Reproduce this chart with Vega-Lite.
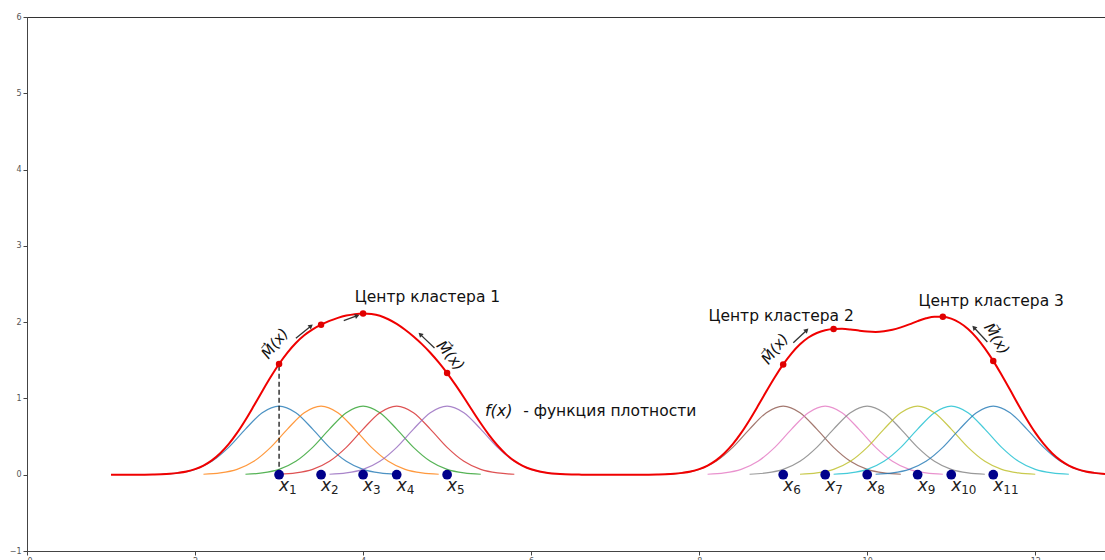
{
  "$schema": "https://vega.github.io/schema/vega-lite/v6.json",
  "width": 1078,
  "height": 534,
  "autosize": "none",
  "padding": {"left": 27, "top": 17, "right": 0, "bottom": 9},
  "background": "white",
  "config": {
    "font": "DejaVu Sans",
    "view": {"stroke": "#333", "strokeWidth": 1},
    "axis": {"grid": false, "title": null, "tickSize": 4, "labelFontSize": 8, "labelColor": "#555", "domainColor": "#444", "tickColor": "#444", "labelPadding": 2, "labelFont": "DejaVu Sans"}
  },
  "datasets": {
    "gauss": [
      {"g":"1","x":1.6,"y":0.006},{"g":"1","x":1.8,"y":0.023},{"g":"1","x":2.0,"y":0.07},{"g":"1","x":2.2,"y":0.176},{"g":"1","x":2.4,"y":0.359},{"g":"1","x":2.6,"y":0.598},{"g":"1","x":2.8,"y":0.813},{"g":"1","x":3.0,"y":0.9},{"g":"1","x":3.2,"y":0.813},{"g":"1","x":3.4,"y":0.598},{"g":"1","x":3.6,"y":0.359},{"g":"1","x":3.8,"y":0.176},{"g":"1","x":4.0,"y":0.07},{"g":"1","x":4.2,"y":0.023},{"g":"1","x":4.4,"y":0.006},
      {"g":"2","x":2.1,"y":0.006},{"g":"2","x":2.3,"y":0.023},{"g":"2","x":2.5,"y":0.07},{"g":"2","x":2.7,"y":0.176},{"g":"2","x":2.9,"y":0.359},{"g":"2","x":3.1,"y":0.598},{"g":"2","x":3.3,"y":0.813},{"g":"2","x":3.5,"y":0.9},{"g":"2","x":3.7,"y":0.813},{"g":"2","x":3.9,"y":0.598},{"g":"2","x":4.1,"y":0.359},{"g":"2","x":4.3,"y":0.176},{"g":"2","x":4.5,"y":0.07},{"g":"2","x":4.7,"y":0.023},{"g":"2","x":4.9,"y":0.006},
      {"g":"3","x":2.6,"y":0.006},{"g":"3","x":2.8,"y":0.023},{"g":"3","x":3.0,"y":0.07},{"g":"3","x":3.2,"y":0.176},{"g":"3","x":3.4,"y":0.359},{"g":"3","x":3.6,"y":0.598},{"g":"3","x":3.8,"y":0.813},{"g":"3","x":4.0,"y":0.9},{"g":"3","x":4.2,"y":0.813},{"g":"3","x":4.4,"y":0.598},{"g":"3","x":4.6,"y":0.359},{"g":"3","x":4.8,"y":0.176},{"g":"3","x":5.0,"y":0.07},{"g":"3","x":5.2,"y":0.023},{"g":"3","x":5.4,"y":0.006},
      {"g":"4","x":3.0,"y":0.006},{"g":"4","x":3.2,"y":0.023},{"g":"4","x":3.4,"y":0.07},{"g":"4","x":3.6,"y":0.176},{"g":"4","x":3.8,"y":0.359},{"g":"4","x":4.0,"y":0.598},{"g":"4","x":4.2,"y":0.813},{"g":"4","x":4.4,"y":0.9},{"g":"4","x":4.6,"y":0.813},{"g":"4","x":4.8,"y":0.598},{"g":"4","x":5.0,"y":0.359},{"g":"4","x":5.2,"y":0.176},{"g":"4","x":5.4,"y":0.07},{"g":"4","x":5.6,"y":0.023},{"g":"4","x":5.8,"y":0.006},
      {"g":"5","x":3.6,"y":0.006},{"g":"5","x":3.8,"y":0.023},{"g":"5","x":4.0,"y":0.07},{"g":"5","x":4.2,"y":0.176},{"g":"5","x":4.4,"y":0.359},{"g":"5","x":4.6,"y":0.598},{"g":"5","x":4.8,"y":0.813},{"g":"5","x":5.0,"y":0.9},{"g":"5","x":5.2,"y":0.813},{"g":"5","x":5.4,"y":0.598},{"g":"5","x":5.6,"y":0.359},{"g":"5","x":5.8,"y":0.176},{"g":"5","x":6.0,"y":0.07},{"g":"5","x":6.2,"y":0.023},{"g":"5","x":6.4,"y":0.006},
      {"g":"6","x":7.6,"y":0.006},{"g":"6","x":7.8,"y":0.023},{"g":"6","x":8.0,"y":0.07},{"g":"6","x":8.2,"y":0.176},{"g":"6","x":8.4,"y":0.359},{"g":"6","x":8.6,"y":0.598},{"g":"6","x":8.8,"y":0.813},{"g":"6","x":9.0,"y":0.9},{"g":"6","x":9.2,"y":0.813},{"g":"6","x":9.4,"y":0.598},{"g":"6","x":9.6,"y":0.359},{"g":"6","x":9.8,"y":0.176},{"g":"6","x":10.0,"y":0.07},{"g":"6","x":10.2,"y":0.023},{"g":"6","x":10.4,"y":0.006},
      {"g":"7","x":8.1,"y":0.006},{"g":"7","x":8.3,"y":0.023},{"g":"7","x":8.5,"y":0.07},{"g":"7","x":8.7,"y":0.176},{"g":"7","x":8.9,"y":0.359},{"g":"7","x":9.1,"y":0.598},{"g":"7","x":9.3,"y":0.813},{"g":"7","x":9.5,"y":0.9},{"g":"7","x":9.7,"y":0.813},{"g":"7","x":9.9,"y":0.598},{"g":"7","x":10.1,"y":0.359},{"g":"7","x":10.3,"y":0.176},{"g":"7","x":10.5,"y":0.07},{"g":"7","x":10.7,"y":0.023},{"g":"7","x":10.9,"y":0.006},
      {"g":"8","x":8.6,"y":0.006},{"g":"8","x":8.8,"y":0.023},{"g":"8","x":9.0,"y":0.07},{"g":"8","x":9.2,"y":0.176},{"g":"8","x":9.4,"y":0.359},{"g":"8","x":9.6,"y":0.598},{"g":"8","x":9.8,"y":0.813},{"g":"8","x":10.0,"y":0.9},{"g":"8","x":10.2,"y":0.813},{"g":"8","x":10.4,"y":0.598},{"g":"8","x":10.6,"y":0.359},{"g":"8","x":10.8,"y":0.176},{"g":"8","x":11.0,"y":0.07},{"g":"8","x":11.2,"y":0.023},{"g":"8","x":11.4,"y":0.006},
      {"g":"9","x":9.2,"y":0.006},{"g":"9","x":9.4,"y":0.023},{"g":"9","x":9.6,"y":0.07},{"g":"9","x":9.8,"y":0.176},{"g":"9","x":10.0,"y":0.359},{"g":"9","x":10.2,"y":0.598},{"g":"9","x":10.4,"y":0.813},{"g":"9","x":10.6,"y":0.9},{"g":"9","x":10.8,"y":0.813},{"g":"9","x":11.0,"y":0.598},{"g":"9","x":11.2,"y":0.359},{"g":"9","x":11.4,"y":0.176},{"g":"9","x":11.6,"y":0.07},{"g":"9","x":11.8,"y":0.023},{"g":"9","x":12.0,"y":0.006},
      {"g":"10","x":9.6,"y":0.006},{"g":"10","x":9.8,"y":0.023},{"g":"10","x":10.0,"y":0.07},{"g":"10","x":10.2,"y":0.176},{"g":"10","x":10.4,"y":0.359},{"g":"10","x":10.6,"y":0.598},{"g":"10","x":10.8,"y":0.813},{"g":"10","x":11.0,"y":0.9},{"g":"10","x":11.2,"y":0.813},{"g":"10","x":11.4,"y":0.598},{"g":"10","x":11.6,"y":0.359},{"g":"10","x":11.8,"y":0.176},{"g":"10","x":12.0,"y":0.07},{"g":"10","x":12.2,"y":0.023},{"g":"10","x":12.4,"y":0.006},
      {"g":"11","x":10.1,"y":0.006},{"g":"11","x":10.3,"y":0.023},{"g":"11","x":10.5,"y":0.07},{"g":"11","x":10.7,"y":0.176},{"g":"11","x":10.9,"y":0.359},{"g":"11","x":11.1,"y":0.598},{"g":"11","x":11.3,"y":0.813},{"g":"11","x":11.5,"y":0.9},{"g":"11","x":11.7,"y":0.813},{"g":"11","x":11.9,"y":0.598},{"g":"11","x":12.1,"y":0.359},{"g":"11","x":12.3,"y":0.176},{"g":"11","x":12.5,"y":0.07},{"g":"11","x":12.7,"y":0.023},{"g":"11","x":12.9,"y":0.006}
    ],
    "density": [
      {"x":1.0,"y":0},{"x":1.2,"y":0},{"x":1.4,"y":0.001},{"x":1.5,"y":0.003},{"x":1.6,"y":0.006},{"x":1.7,"y":0.012},{"x":1.8,"y":0.024},{"x":1.9,"y":0.042},{"x":2.0,"y":0.073},
      {"x":2.1,"y":0.12},{"x":2.2,"y":0.188},{"x":2.3,"y":0.282},{"x":2.4,"y":0.401},{"x":2.5,"y":0.548},{"x":2.6,"y":0.718},{"x":2.7,"y":0.904},{"x":2.8,"y":1.095},{"x":2.9,"y":1.28},{"x":3.0,"y":1.451},
      {"x":3.1,"y":1.601},{"x":3.2,"y":1.727},{"x":3.3,"y":1.828},{"x":3.4,"y":1.905},{"x":3.5,"y":1.967},{"x":3.6,"y":2.016},{"x":3.7,"y":2.056},{"x":3.8,"y":2.086},{"x":3.9,"y":2.105},{"x":4.0,"y":2.113},
      {"x":4.1,"y":2.106},{"x":4.2,"y":2.083},{"x":4.3,"y":2.038},{"x":4.4,"y":1.977},{"x":4.5,"y":1.9},{"x":4.6,"y":1.812},{"x":4.7,"y":1.712},{"x":4.8,"y":1.599},{"x":4.9,"y":1.472},{"x":5.0,"y":1.332},
      {"x":5.1,"y":1.177},{"x":5.2,"y":1.013},{"x":5.3,"y":0.841},{"x":5.4,"y":0.674},{"x":5.5,"y":0.519},{"x":5.6,"y":0.383},{"x":5.7,"y":0.27},{"x":5.8,"y":0.182},{"x":5.9,"y":0.117},{"x":6.0,"y":0.071},
      {"x":6.1,"y":0.042},{"x":6.2,"y":0.023},{"x":6.3,"y":0.012},{"x":6.4,"y":0.006},{"x":6.5,"y":0.003},{"x":6.6,"y":0.001},{"x":6.8,"y":0},{"x":7.0,"y":0},{"x":7.2,"y":0},{"x":7.4,"y":0.001},
      {"x":7.5,"y":0.003},{"x":7.6,"y":0.006},{"x":7.7,"y":0.012},{"x":7.8,"y":0.024},{"x":7.9,"y":0.042},{"x":8.0,"y":0.073},{"x":8.1,"y":0.12},{"x":8.2,"y":0.188},{"x":8.3,"y":0.282},{"x":8.4,"y":0.401},
      {"x":8.5,"y":0.548},{"x":8.6,"y":0.718},{"x":8.7,"y":0.903},{"x":8.8,"y":1.094},{"x":8.9,"y":1.278},{"x":9.0,"y":1.446},{"x":9.1,"y":1.592},{"x":9.2,"y":1.71},{"x":9.3,"y":1.799},{"x":9.4,"y":1.858},
      {"x":9.5,"y":1.894},{"x":9.6,"y":1.91},{"x":9.7,"y":1.912},{"x":9.8,"y":1.904},{"x":9.9,"y":1.889},{"x":10.0,"y":1.877},{"x":10.1,"y":1.872},{"x":10.2,"y":1.88},{"x":10.3,"y":1.899},{"x":10.4,"y":1.931},
      {"x":10.5,"y":1.97},{"x":10.6,"y":2.013},{"x":10.7,"y":2.05},{"x":10.8,"y":2.072},{"x":10.9,"y":2.071},{"x":11.0,"y":2.046},{"x":11.1,"y":1.992},{"x":11.2,"y":1.911},{"x":11.3,"y":1.798},{"x":11.4,"y":1.657},
      {"x":11.5,"y":1.492},{"x":11.6,"y":1.307},{"x":11.7,"y":1.113},{"x":11.8,"y":0.914},{"x":11.9,"y":0.724},{"x":12.0,"y":0.551},{"x":12.1,"y":0.403},{"x":12.2,"y":0.282},{"x":12.3,"y":0.188},{"x":12.4,"y":0.12},
      {"x":12.5,"y":0.073},{"x":12.6,"y":0.042},{"x":12.7,"y":0.024},{"x":12.8,"y":0.012},{"x":12.9,"y":0.006},{"x":13.0,"y":0.003}
    ],
    "pts": [
      {"x":3.0,"y":0,"sub":"1"},{"x":3.5,"y":0,"sub":"2"},{"x":4.0,"y":0,"sub":"3"},{"x":4.4,"y":0,"sub":"4"},{"x":5.0,"y":0,"sub":"5"},
      {"x":9.0,"y":0,"sub":"6"},{"x":9.5,"y":0,"sub":"7"},{"x":10.0,"y":0,"sub":"8"},{"x":10.6,"y":0,"sub":"9"},{"x":11.0,"y":0,"sub":"10"},{"x":11.5,"y":0,"sub":"11"}
    ],
    "reds": [
      {"x":3.0,"y":1.451},{"x":3.5,"y":1.967},{"x":4.0,"y":2.113},{"x":5.0,"y":1.332},
      {"x":9.0,"y":1.446},{"x":9.6,"y":1.91},{"x":10.9,"y":2.071},{"x":11.5,"y":1.492}
    ],
    "dash": [{"x":3.0,"y":0,"y2":1.451}],
    "arrows": [
      {"id":"a1","x":3.2,"y":1.79,"x2":3.38,"y2":1.95},
      {"id":"a2","x":3.77,"y":2.02,"x2":3.93,"y2":2.085},
      {"id":"a3","x":4.85,"y":1.66,"x2":4.68,"y2":1.84},
      {"id":"a4","x":9.12,"y":1.73,"x2":9.28,"y2":1.895},
      {"id":"a5","x":11.43,"y":1.74,"x2":11.27,"y2":1.93}
    ],
    "labels": [
      {"x":3.9,"y":2.33,"t":"Центр кластера 1"},
      {"x":8.11,"y":2.08,"t":"Центр кластера 2"},
      {"x":10.61,"y":2.28,"t":"Центр кластера 3"},
      {"x":5.905,"y":0.84,"t":"- функция плотности"}
    ],
    "fx": [{"x":5.45,"y":0.84,"t":"f(x)"}],
    "mlab": [
      {"id":"m1","x":2.95,"y":1.72},
      {"id":"m2","x":5.04,"y":1.56},
      {"id":"m3","x":8.9,"y":1.65},
      {"id":"m4","x":11.54,"y":1.78}
    ]
  },
  "encoding": {
    "x": {"field": "x", "type": "quantitative", "scale": {"domain": [0, 12.83], "nice": false, "zero": false}, "axis": {"values": [0, 2, 4, 6, 8, 10, 12]}},
    "y": {"field": "y", "type": "quantitative", "scale": {"domain": [-1, 6], "nice": false, "zero": false}, "axis": {"values": [-1, 0, 1, 2, 3, 4, 5, 6]}}
  },
  "layer": [
    {
      "data": {"name": "gauss"},
      "mark": {"type": "line", "strokeWidth": 1.2, "opacity": 0.8, "interpolate": "monotone"},
      "encoding": {
        "color": {"field": "g", "type": "nominal", "legend": null,
          "scale": {"domain": ["1","2","3","4","5","6","7","8","9","10","11"],
                    "range": ["#1f77b4","#ff7f0e","#2ca02c","#d62728","#9467bd","#8c564b","#e377c2","#7f7f7f","#bcbd22","#17becf","#1f77b4"]}}
      }
    },
    {
      "data": {"name": "dash"},
      "mark": {"type": "rule", "color": "black", "strokeWidth": 1.2, "strokeDash": [5, 3]},
      "encoding": {"y2": {"field": "y2"}}
    },
    {
      "data": {"name": "density"},
      "mark": {"type": "line", "color": "#f00000", "strokeWidth": 2, "interpolate": "monotone", "clip": true},
      "encoding": {}
    },
    {
      "data": {"name": "reds"},
      "mark": {"type": "point", "filled": true, "color": "#e00000", "size": 42, "opacity": 1}
    },
    {
      "data": {"name": "pts"},
      "mark": {"type": "point", "filled": true, "color": "#00008b", "size": 95, "opacity": 1}
    },
    {
      "data": {"name": "pts"},
      "mark": {"type": "text", "text": "x", "font": "DejaVu Sans", "fontStyle": "italic", "fontSize": 17, "align": "left", "baseline": "alphabetic", "dx": 0, "dy": 16, "color": "#222"}
    },
    {
      "data": {"name": "pts"},
      "mark": {"type": "text", "font": "DejaVu Sans", "fontSize": 12, "align": "left", "baseline": "alphabetic", "dx": 10, "dy": 19, "color": "#222"},
      "encoding": {"text": {"field": "sub"}}
    },
    {
      "data": {"name": "arrows"},
      "mark": {"type": "rule", "color": "#333", "strokeWidth": 1.3},
      "encoding": {"x2": {"field": "x2"}, "y2": {"field": "y2"}}
    },
    {"data": {"name": "arrows"}, "transform": [{"filter": "datum.id === 'a1'"}], "mark": {"type": "point", "shape": "triangle-up", "filled": true, "color": "#333", "size": 28, "opacity": 1, "angle": 51}, "encoding": {"x": {"field": "x2", "type": "quantitative"}, "y": {"field": "y2", "type": "quantitative"}}},
    {"data": {"name": "arrows"}, "transform": [{"filter": "datum.id === 'a2'"}], "mark": {"type": "point", "shape": "triangle-up", "filled": true, "color": "#333", "size": 28, "opacity": 1, "angle": 70}, "encoding": {"x": {"field": "x2", "type": "quantitative"}, "y": {"field": "y2", "type": "quantitative"}}},
    {"data": {"name": "arrows"}, "transform": [{"filter": "datum.id === 'a3'"}], "mark": {"type": "point", "shape": "triangle-up", "filled": true, "color": "#333", "size": 28, "opacity": 1, "angle": -46}, "encoding": {"x": {"field": "x2", "type": "quantitative"}, "y": {"field": "y2", "type": "quantitative"}}},
    {"data": {"name": "arrows"}, "transform": [{"filter": "datum.id === 'a4'"}], "mark": {"type": "point", "shape": "triangle-up", "filled": true, "color": "#333", "size": 28, "opacity": 1, "angle": 47}, "encoding": {"x": {"field": "x2", "type": "quantitative"}, "y": {"field": "y2", "type": "quantitative"}}},
    {"data": {"name": "arrows"}, "transform": [{"filter": "datum.id === 'a5'"}], "mark": {"type": "point", "shape": "triangle-up", "filled": true, "color": "#333", "size": 28, "opacity": 1, "angle": -43}, "encoding": {"x": {"field": "x2", "type": "quantitative"}, "y": {"field": "y2", "type": "quantitative"}}},
    {
      "data": {"name": "labels"},
      "mark": {"type": "text", "font": "DejaVu Sans", "fontSize": 15.5, "align": "left", "baseline": "middle", "color": "#111"},
      "encoding": {"text": {"field": "t"}}
    },
    {
      "data": {"name": "fx"},
      "mark": {"type": "text", "font": "DejaVu Sans", "fontStyle": "italic", "fontSize": 16, "align": "left", "baseline": "middle", "color": "#111"},
      "encoding": {"text": {"field": "t"}}
    },
    {"data": {"name": "mlab"}, "transform": [{"filter": "datum.id === 'm1'"}], "mark": {"type": "text", "text": "M⃗(x)", "font": "DejaVu Sans", "fontStyle": "italic", "fontSize": 15, "align": "center", "baseline": "middle", "color": "#111", "angle": -52}},
    {"data": {"name": "mlab"}, "transform": [{"filter": "datum.id === 'm2'"}], "mark": {"type": "text", "text": "M⃗(x)", "font": "DejaVu Sans", "fontStyle": "italic", "fontSize": 15, "align": "center", "baseline": "middle", "color": "#111", "angle": 50}},
    {"data": {"name": "mlab"}, "transform": [{"filter": "datum.id === 'm3'"}], "mark": {"type": "text", "text": "M⃗(x)", "font": "DejaVu Sans", "fontStyle": "italic", "fontSize": 15, "align": "center", "baseline": "middle", "color": "#111", "angle": -52}},
    {"data": {"name": "mlab"}, "transform": [{"filter": "datum.id === 'm4'"}], "mark": {"type": "text", "text": "M⃗(x)", "font": "DejaVu Sans", "fontStyle": "italic", "fontSize": 15, "align": "center", "baseline": "middle", "color": "#111", "angle": 58}}
  ]
}
